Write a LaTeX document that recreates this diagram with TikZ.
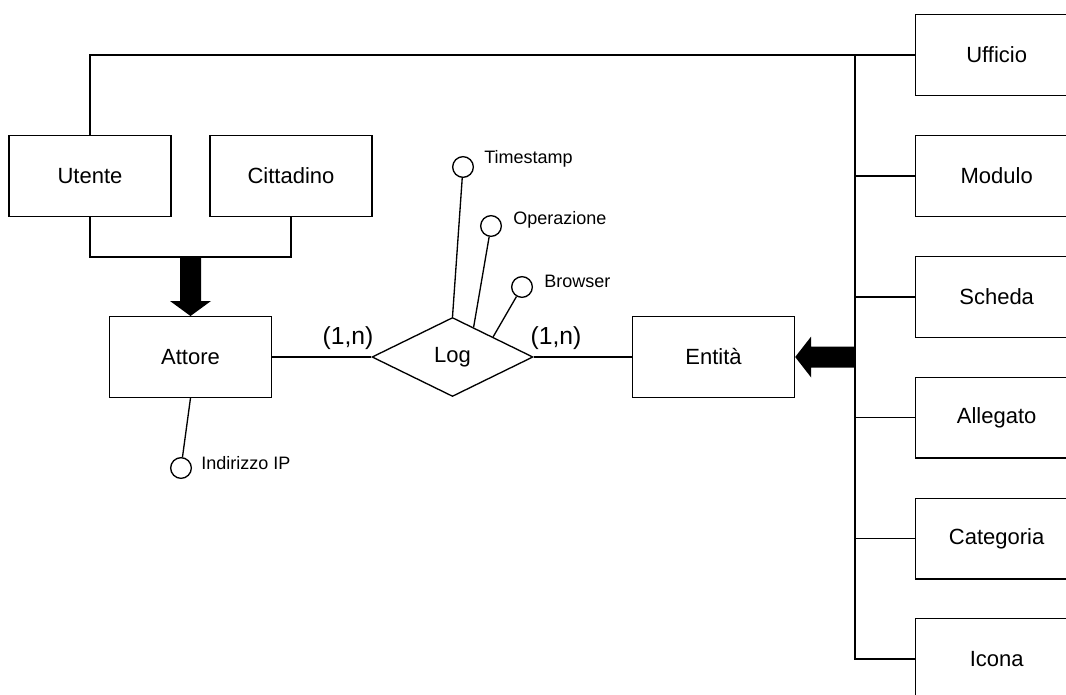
\documentclass[tikz,border=0pt]{standalone}
\usepackage{fontspec}
\setmainfont{Liberation Sans}
\usetikzlibrary{shapes.geometric,calc}
\begin{document}
\begin{tikzpicture}[x=0.75pt,y=-0.75pt,
  ent/.style={draw,line width=1pt,minimum width=121.5pt,minimum height=60.5pt,inner sep=0pt,font=\fontsize{16.5}{18}\selectfont},
  rent/.style={ent,anchor=west},
  rel/.style={draw,diamond,aspect=2,line width=1pt,minimum width=120.75pt,minimum height=59.25pt,inner sep=0pt,font=\fontsize{16.5}{18}\selectfont},
  attr/.style={draw,circle,line width=1pt,minimum size=15.5pt,inner sep=0pt},
  attrlab/.style={anchor=west,inner sep=0pt,font=\fontsize{13.5}{15}\selectfont},
  card/.style={inner sep=0pt,font=\fontsize{18.5}{20}\selectfont},
  conn/.style={line width=1pt},
  fat/.style={fill=black,draw=none}
]
\newcommand{\rtext}[1]{\makebox[121.5pt]{#1}\hspace{60pt}}
\path[use as bounding box,clip] (0,0) rectangle (1066,695);
\fill[white] (0,0) rectangle (1066,695);

% entities
\node[ent] (utente) at (90,176) {Utente};
\node[ent] (cittadino) at (291,176) {Cittadino};
\node[ent] (attore) at (190.5,357) {Attore};
\node[ent] (entita) at (713.5,357) {Entità};
\node[rent] (ufficio) at (915,55) {\rtext{Ufficio}};
\node[rent] (modulo) at (915,176) {\rtext{Modulo}};
\node[rent] (scheda) at (915,297) {\rtext{Scheda}};
\node[rent] (allegato) at (915,417.5) {\rtext{Allegato}};
\node[rent] (categoria) at (915,538.5) {\rtext{Categoria}};
\node[rent] (icona) at (915,659) {\rtext{Icona}};

% relationship
\node[rel] (log) at (452.5,357) {Log};

% attributes
\node[attr] (ip) at (181,468) {};
\node[attrlab] (iplab) at (201,463) {Indirizzo IP};
\node[attr] (ts) at (463,167) {};
\node[attrlab] (tslab) at (484,159) {Timestamp};
\node[attr] (op) at (491,226) {};
\node[attrlab] (oplab) at (513,220) {Operazione};
\node[attr] (br) at (522,287) {};
\node[attrlab] (brlab) at (544,281) {Browser};

% cardinalities
\node[card] (c1) at (348,338) {(1,n)};
\node[card] (c2) at (556,338) {(1,n)};

% relationship connectors
\draw[conn] (attore.east) -- (log.west);
\draw[conn] (log.east) -- (entita.west);

% attribute connectors
\draw[conn] (attore.south) -- (ip);
\draw[conn] (log.north) -- (ts);
\draw[conn] ($(log.north)!0.26!(log.east)$) -- (op);
\draw[conn] (log.north east) -- (br);

% generalization Utente/Cittadino -> Attore
\coordinate (j1) at (190.5,257);
\draw[conn] (utente.south) |- (j1) -| (cittadino.south);
\fill[fat] ($(j1)+(-10.5,0)$) -- ($(attore.north)+(-10.5,-15)$) -- ($(attore.north)+(-20.5,-15)$)
  -- (attore.north) -- ($(attore.north)+(20.5,-15)$) -- ($(attore.north)+(10.5,-15)$)
  -- ($(j1)+(10.5,0)$) -- cycle;

% generalization of Entita
\coordinate (bustop) at (855,55);
\coordinate (busbot) at (855,659);
\draw[conn] (utente.north) |- (ufficio.west);
\draw[conn] (bustop) -- (busbot) -- (icona.west);
\draw[conn] (modulo.west) -- (modulo.west -| bustop);
\draw[conn] (scheda.west) -- (scheda.west -| bustop);
\draw[conn] (allegato.west) -- (allegato.west -| bustop);
\draw[conn] (categoria.west) -- (categoria.west -| bustop);
\coordinate (j2) at (855,357);
\fill[fat] ($(j2)+(0,-10.5)$) -- ($(entita.east)+(16,-10.5)$) -- ($(entita.east)+(16,-20.5)$)
  -- (entita.east) -- ($(entita.east)+(16,20.5)$) -- ($(entita.east)+(16,10.5)$)
  -- ($(j2)+(0,10.5)$) -- cycle;
\end{tikzpicture}
\end{document}
